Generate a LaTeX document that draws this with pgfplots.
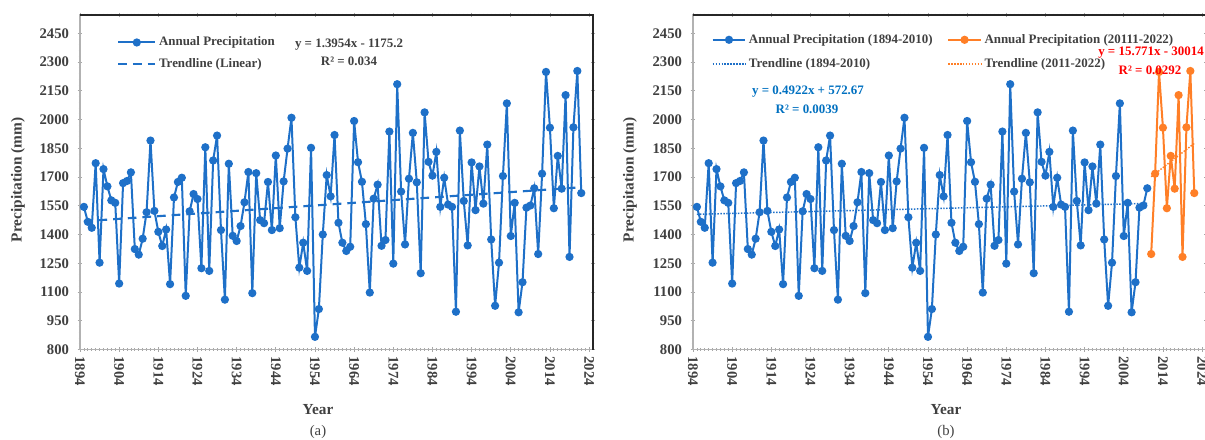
\documentclass[border=0pt]{standalone}
\usepackage{pgfplots}
\usepackage{pgfplotstable}
\pgfplotsset{compat=1.18}
\usepackage{fontspec}
\setmainfont{Liberation Serif}
\definecolor{pblue}{RGB}{30,112,200}
\definecolor{porange}{RGB}{255,127,39}
\definecolor{eqblue}{RGB}{0,112,192}
\definecolor{txtgray}{RGB}{64,64,64}

\pgfplotstableread{
year val
1895 1544
1896 1466
1897 1435
1898 1772
1899 1253
1900 1741
1901 1651
1902 1578
1903 1565
1904 1144
1905 1668
1906 1679
1907 1724
1908 1324
1909 1295
1910 1378
1911 1516
1912 1890
1913 1523
1914 1414
1915 1340
1916 1426
1917 1141
1918 1593
1919 1674
1920 1696
1921 1080
1922 1521
1923 1611
1924 1585
1925 1224
1926 1855
1927 1210
1928 1786
1929 1916
1930 1423
1931 1060
1932 1769
1933 1393
1934 1366
1935 1444
1936 1568
1937 1726
1938 1094
1939 1720
1940 1475
1941 1459
1942 1674
1943 1423
1944 1812
1945 1433
1946 1677
1947 1848
1948 2009
1949 1490
1950 1227
1951 1357
1952 1210
1953 1852
1954 866
1955 1011
1956 1400
1957 1710
1958 1599
1959 1919
1960 1461
1961 1357
1962 1314
1963 1336
1964 1992
1965 1777
1966 1675
1967 1454
1968 1097
1969 1587
1970 1660
1971 1341
1972 1371
1973 1937
1974 1248
1975 2184
1976 1624
1977 1348
1978 1691
1979 1930
1980 1672
1981 1198
1982 2037
1983 1779
1984 1707
1985 1831
1986 1544
1987 1696
1988 1556
1989 1544
1990 997
1991 1942
1992 1575
1993 1343
1994 1776
1995 1527
1996 1755
1997 1561
1998 1869
1999 1374
2000 1028
2001 1253
2002 1705
2003 2084
2004 1392
2005 1565
2006 994
2007 1151
2008 1540
2009 1551
2010 1641
2011 1298
2012 1717
2013 2248
2014 1957
2015 1537
2016 1810
2017 1639
2018 2127
2019 1283
2020 1959
2021 2253
2022 1616
}\fulldata

\pgfplotstableread{
year val
2011 1298
2012 1717
2013 2248
2014 1957
2015 1537
2016 1810
2017 1639
2018 2127
2019 1283
2020 1959
2021 2253
2022 1616
}\latedata

\pgfplotsset{
  panel/.style={
    scale only axis,
    width=384.75pt, height=250.875pt,
    anchor=south west,
    xmin=1894, xmax=2025,
    ymin=800, ymax=2545,
    xtick={1894,1904,...,2024},
    ytick={800,950,...,2450},
    minor x tick num=9,
    minor y tick num=4,
    /pgf/number format/1000 sep={},
    /pgf/number format/assume math mode=true,
    scaled ticks=false,
    tick align=center,
    major tick length=3.5pt,
    minor tick length=2pt,
    tick style={gray!70, line width=0.6pt},
    axis line style={draw=gray!60, line width=0.9pt},
    xticklabel style={rotate=-90, anchor=west, font=\fontsize{11}{13}\selectfont\bfseries, text=black!75},
    yticklabel style={font=\fontsize{11}{13}\selectfont\bfseries, text=black!75, xshift=-3pt},
    legend cell align=left,
    after end axis/.code={\draw[black!85, line width=1.1pt] (rel axis cs:0,1) -- (rel axis cs:1,1) -- (rel axis cs:1,0);},
  },
  datastyle/.style={line width=1.5pt, mark=*, mark size=2.3pt, mark options={solid}},
}

\begin{document}
\begin{tikzpicture}
\path[use as bounding box, clip] (0,0) rectangle (903.75pt,329.25pt);

% ---------- panel (a) ----------
\begin{axis}[panel, at={(60pt,67.125pt)},
  legend style={draw=none, fill=none, at={(0.072,0.943)}, anchor=north west,
    font=\fontsize{9.7}{11}\selectfont\bfseries, text=txtgray, row sep=4pt, inner sep=0pt},
  legend image code/.code={\draw[mark repeat=2,mark phase=2,#1] plot coordinates {(0pt,0pt)(13.9pt,0pt)(27.8pt,0pt)};},
]
\addplot[pblue, datastyle] table[x=year,y=val] {\fulldata};
\addlegendentry{Annual Precipitation}
\addplot[pblue, line width=1.6pt, dash pattern=on 6.5pt off 4.5pt] coordinates {(1895,1469.08) (2022,1646.30)};
\addlegendentry{Trendline (Linear)}
\end{axis}

% ---------- panel (b) ----------
\begin{axis}[panel, at={(519.75pt,67.125pt)},
  legend columns=2, transpose legend,
  legend style={draw=none, fill=none, at={(0.036,0.951)}, anchor=north west,
    font=\fontsize{9.7}{11}\selectfont\bfseries, text=txtgray, row sep=6pt, inner sep=0pt,
    /tikz/every even column/.append style={column sep=9pt}},
  legend image code/.code={\draw[mark repeat=2,mark phase=2,#1] plot coordinates {(0pt,0pt)(12.2pt,0pt)(24.4pt,0pt)};},
]
\addplot[pblue, datastyle] table[x=year,y=val, restrict x to domain=1895:2010] {\fulldata};
\addlegendentry{Annual Precipitation (1894-2010)}
\addplot[pblue, line width=1.1pt, dash pattern=on 1.1pt off 1.1pt] coordinates {(1895,1505.39) (2010,1561.99)};
\addlegendentry{Trendline (1894-2010)}
\addplot[porange, datastyle] table[x=year,y=val] {\latedata};
\addlegendentry{Annual Precipitation (20111-2022)}
\addplot[porange, line width=1.1pt, dash pattern=on 1.1pt off 1.1pt] coordinates {(2011,1701.48) (2022,1874.96)};
\addlegendentry{Trendline (2011-2022)}
\end{axis}

% ---------- texts ----------
\node[text=txtgray, font=\fontsize{9.7}{11}\selectfont\bfseries] at (261.75pt,296pt) {y = 1.3954x - 1175.2};
\node[text=txtgray, font=\fontsize{9.7}{11}\selectfont\bfseries] at (261.75pt,283.5pt) {R² = 0.034};
\node[text=eqblue, font=\fontsize{9.7}{11}\selectfont\bfseries] at (606pt,260.25pt) {y = 0.4922x + 572.67};
\node[text=eqblue, font=\fontsize{9.7}{11}\selectfont\bfseries] at (605.25pt,247.5pt) {R² = 0.0039};
\node[text=red, font=\fontsize{9.7}{11}\selectfont\bfseries] at (863.25pt,289.5pt) {y = 15.771x - 30014};
\node[text=red, font=\fontsize{9.7}{11}\selectfont\bfseries] at (862.5pt,276.75pt) {R² = 0.0292};

\node[rotate=90, text=black!75, font=\fontsize{11.5}{13}\selectfont\bfseries] at (13.5pt,194.25pt) {Precipitation (mm)};
\node[rotate=90, text=black!75, font=\fontsize{11.5}{13}\selectfont\bfseries] at (472.5pt,194.25pt) {Precipitation (mm)};
\node[text=black!75, font=\fontsize{11.5}{13}\selectfont\bfseries] at (238.5pt,21.75pt) {Year};
\node[text=black!75, font=\fontsize{11}{13}\selectfont] at (238.5pt,5.25pt) {(a)};
\node[text=black!75, font=\fontsize{11.5}{13}\selectfont\bfseries] at (709.5pt,21.75pt) {Year};
\node[text=black!75, font=\fontsize{11}{13}\selectfont] at (709.5pt,5.25pt) {(b)};
\end{tikzpicture}
\end{document}
